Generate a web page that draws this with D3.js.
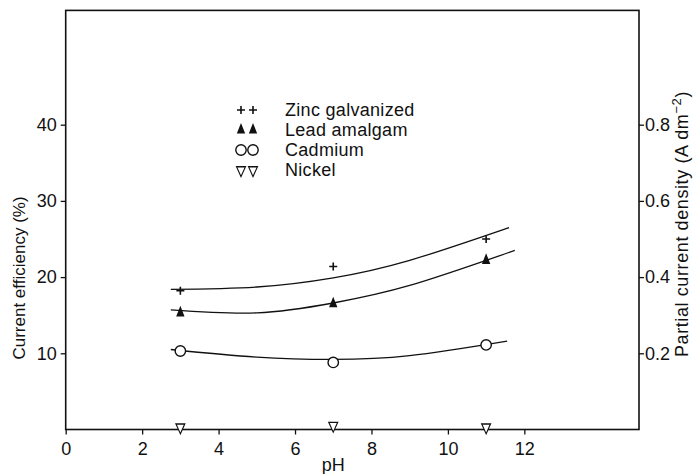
<!DOCTYPE html>
<meta charset="utf-8">
<html>
<head>
<script src="https://cdnjs.cloudflare.com/ajax/libs/d3/7.8.5/d3.min.js"></script>
<style>
  body { margin: 0; background: #fff; }
  text { font-family: "Liberation Sans", Arial, sans-serif; fill: #111; }
</style>
</head>
<body>
<div id="chart"></div>
<script>
// measured points (pH vs current efficiency %)
var phPoints = [3, 7, 11];
var zincVals = [18.2, 21.4, 25.0];
var leadVals = [15.3, 16.5, 22.2];
var cadmiumVals = [10.3, 8.8, 11.1];
var nickelVals = [0.3, 0.5, 0.3];

// hand drawn fitted curves
var zincFitPh = [2.75, 5, 7, 9, 11.6];
var zincFitVals = [18.4, 18.7, 19.9, 22.2, 26.5];
var leadFitPh = [2.75, 5, 7, 9, 11.75];
var leadFitVals = [15.7, 15.3, 16.6, 18.9, 23.5];
var cadFitPh = [2.75, 5, 7, 9, 11.55];
var cadFitVals = [10.5, 9.5, 9.2, 9.7, 11.6];

var xTicks = [0, 2, 4, 6, 8, 10, 12];
var yTicks = [10, 20, 30, 40];
var yRightTicks = [0.2, 0.4, 0.6, 0.8];
var legendNames = ["Zinc galvanized", "Lead amalgam", "Cadmium", "Nickel"];

var width = 693, height = 474;
var plotL = 65.7, plotR = 639, plotT = 10.4, plotB = 429.5;

var svg = d3.select("#chart").append("svg")
  .attr("width", width)
  .attr("height", height);

var x = d3.scaleLinear().domain([0, 15]).range([plotL, plotR]);
var y = d3.scaleLinear().domain([0, 55]).range([plotB, plotT]);
var yR = d3.scaleLinear().domain([0, 1.1]).range([plotB, plotT]);

// frame
svg.append("rect")
  .attr("x", plotL).attr("y", plotT)
  .attr("width", plotR - plotL).attr("height", plotB - plotT)
  .attr("fill", "none").attr("stroke", "#111").attr("stroke-width", 1.6);

function styleAxis(g) {
  g.select(".domain").remove();
  g.selectAll("line").attr("stroke", "#111").attr("stroke-width", 1.3);
  g.selectAll("text").attr("font-size", 18).attr("font-family", null).attr("fill", "#111");
}

svg.append("g")
  .attr("transform", "translate(0," + plotB + ")")
  .call(d3.axisBottom(x).tickValues(xTicks).tickSize(5).tickPadding(8).tickFormat(d3.format("d")))
  .call(styleAxis);

svg.append("g")
  .attr("transform", "translate(" + plotL + ",0)")
  .call(d3.axisLeft(y).tickValues(yTicks).tickSize(5).tickPadding(4))
  .call(styleAxis);

svg.append("g")
  .attr("transform", "translate(" + plotR + ",0)")
  .call(d3.axisRight(yR).tickValues(yRightTicks).tickSize(5).tickPadding(1).tickFormat(d3.format(".1f")))
  .call(styleAxis);

// axis titles
svg.append("text")
  .attr("x", x(7)).attr("y", 471)
  .attr("text-anchor", "middle").attr("font-size", 18)
  .text("pH");

svg.append("text")
  .attr("transform", "translate(25,278) rotate(-90)")
  .attr("text-anchor", "middle").attr("font-size", 17)
  .text("Current efficiency (%)");

var rl = svg.append("text")
  .attr("transform", "translate(688,224) rotate(-90)")
  .attr("text-anchor", "middle").attr("font-size", 18)
  .attr("letter-spacing", 0.6);
rl.append("tspan").text("Partial current density (A dm");
rl.append("tspan").attr("dy", -7).attr("font-size", 13).text("\u22122");
rl.append("tspan").attr("dy", 7).text(")");

// fitted curves
var line = d3.line().x(function(d) { return x(d[0]); }).y(function(d) { return y(d[1]); }).curve(d3.curveNatural);
[[zincFitPh, zincFitVals], [leadFitPh, leadFitVals], [cadFitPh, cadFitVals]].forEach(function(s) {
  svg.append("path")
    .datum(d3.zip(s[0], s[1]))
    .attr("d", line)
    .attr("fill", "none").attr("stroke", "#111").attr("stroke-width", 1.3);
});

// markers
function plus(g, cx, cy) {
  g.append("path")
    .attr("d", "M" + (cx - 4) + "," + cy + "H" + (cx + 4) + "M" + cx + "," + (cy - 4) + "V" + (cy + 4))
    .attr("stroke", "#111").attr("stroke-width", 1.6);
}
function upTri(g, cx, cy) {
  g.append("path")
    .attr("d", d3.symbol(d3.symbolTriangle, 42)())
    .attr("transform", "translate(" + cx + "," + cy + ") scale(0.85,1.25)")
    .attr("fill", "#111");
}
function circ(g, cx, cy) {
  g.append("circle").attr("cx", cx).attr("cy", cy).attr("r", 5.2)
    .attr("fill", "#fff").attr("stroke", "#111").attr("stroke-width", 1.4);
}
function downTri(g, cx, cy) {
  g.append("path")
    .attr("d", d3.symbol(d3.symbolTriangle, 42)())
    .attr("transform", "translate(" + cx + "," + cy + ") rotate(180) scale(0.9,1.15)")
    .attr("fill", "#fff").attr("stroke", "#111").attr("stroke-width", 1.2);
}

var marks = svg.append("g");
var drawers = [plus, upTri, circ, downTri];
[zincVals, leadVals, cadmiumVals, nickelVals].forEach(function(vals, i) {
  vals.forEach(function(v, j) { drawers[i](marks, x(phPoints[j]), y(v)); });
});

// legend
var legY = [110, 130, 150, 170];
var leg = svg.append("g");
legendNames.forEach(function(name, i) {
  drawers[i](leg, 241, legY[i]);
  drawers[i](leg, 253, legY[i]);
  leg.append("text")
    .attr("x", 285).attr("y", legY[i] + 6)
    .attr("font-size", 18).attr("letter-spacing", 0.3)
    .text(name);
});
</script>
</body>
</html>
